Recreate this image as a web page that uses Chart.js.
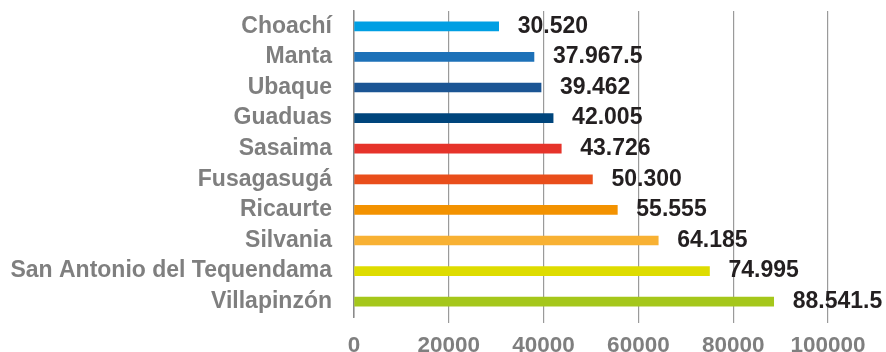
<!DOCTYPE html>
<html>
<head>
<meta charset="utf-8">
<script src="https://cdn.jsdelivr.net/npm/chart.js@4/dist/chart.umd.min.js"></script>
<style>
  html, body { margin: 0; padding: 0; background: #ffffff; }
  canvas { display: block; }
</style>
</head>
<body>
<canvas id="chart" width="886" height="352"></canvas>
<script>
// Municipios y valores
const municipios = [
  'Choachí', 'Manta', 'Ubaque', 'Guaduas', 'Sasaima',
  'Fusagasugá', 'Ricaurte', 'Silvania', 'San Antonio del Tequendama', 'Villapinzón'
];
const valores = [30520, 37967.5, 39462, 42005, 43726, 50300, 55555, 64185, 74995, 88541.5];
const colores = [
  '#009fe3', '#1d71b8', '#1b5594', '#00457c', '#e6332a',
  '#e94e1b', '#f39200', '#f8b133', '#dedc00', '#a5c71b'
];
const ejeMin = 0;
const ejeMax = 100000;
const ejePaso = 20000;

const FUENTE = '"Liberation Sans", Arial, Helvetica, sans-serif';

// 37967.5 -> "37.967.5"
function formatoValor(v) {
  const partes = String(v).split('.');
  const entero = partes[0].replace(/\B(?=(\d{3})+(?!\d))/g, '.');
  return partes.length > 1 ? entero + '.' + partes[1] : entero;
}

// Etiquetas de valor a la derecha de cada barra
const etiquetasValor = {
  id: 'etiquetasValor',
  afterDatasetsDraw(chart) {
    const ctx = chart.ctx;
    const meta = chart.getDatasetMeta(0);
    ctx.save();
    ctx.font = 'bold 23px ' + FUENTE;
    ctx.fillStyle = '#231f20';
    ctx.textAlign = 'left';
    ctx.textBaseline = 'middle';
    meta.data.forEach((bar, i) => {
      ctx.fillText(formatoValor(valores[i]), bar.x + 19, bar.y);
    });
    ctx.restore();
  }
};

new Chart(document.getElementById('chart'), {
  type: 'bar',
  data: {
    labels: municipios,
    datasets: [{
      data: valores,
      backgroundColor: colores,
      borderWidth: 0,
      barThickness: 9
    }]
  },
  options: {
    indexAxis: 'y',
    responsive: false,
    animation: false,
    layout: { padding: { top: 11, right: 58, left: 0, bottom: 0 } },
    plugins: {
      legend: { display: false },
      tooltip: { enabled: false }
    },
    scales: {
      x: {
        min: ejeMin,
        max: ejeMax,
        afterFit(scale) { scale.height = 35; },
        ticks: {
          stepSize: ejePaso,
          padding: 9,
          color: '#7f7f7f',
          font: { family: FUENTE, size: 22.5, weight: 'bold' },
          callback: (v) => String(v)
        },
        grid: {
          color: '#9a9a9a',
          lineWidth: 1.2,
          drawTicks: true,
          tickLength: 6,
          // the zero line is the y-axis border; no tick below it
          tickColor: (ctx) => (ctx.tick && ctx.tick.value === 0 ? 'rgba(0,0,0,0)' : '#9a9a9a')
        },
        border: { display: false }
      },
      y: {
        afterFit(scale) {
          scale.width = 354;
          scale.paddingTop = 0;
          scale.paddingBottom = 0;
        },
        ticks: {
          padding: 22,
          color: '#7f7f7f',
          font: { family: FUENTE, size: 23, weight: 'bold' }
        },
        grid: { display: false, drawTicks: false },
        border: { display: true, color: '#8a8a8a', width: 1.5 }
      }
    }
  },
  plugins: [etiquetasValor]
});
</script>
</body>
</html>
